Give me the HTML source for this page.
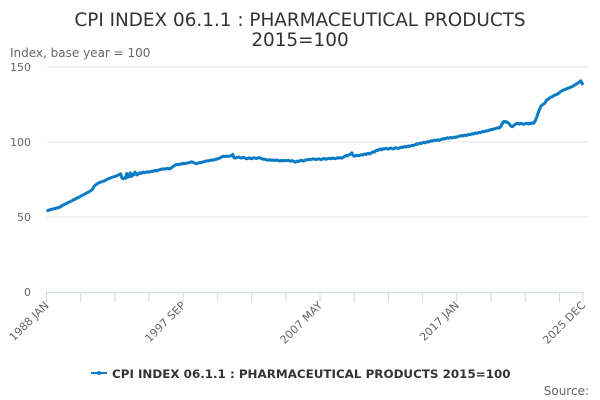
<!DOCTYPE html>
<html><head><meta charset="utf-8"><style>
body{margin:0;background:#fff;}
svg{display:block;font-family:"DejaVu Sans","Liberation Sans",sans-serif;}
</style></head><body>
<svg id="chart" width="600" height="400">
<text x="300" y="26" text-anchor="middle" font-size="18.4" fill="#333">CPI INDEX 06.1.1 : PHARMACEUTICAL PRODUCTS</text>
<text x="300" y="46" text-anchor="middle" font-size="18.4" fill="#333">2015=100</text>
<text x="10" y="57" font-size="12" fill="#666">Index, base year = 100</text>
<g id="grid"></g><g id="xaxis"></g><g id="series"></g>
<g>
<line x1="91" y1="373" x2="107" y2="373" stroke="#0a7bc4" stroke-width="2"/>
<circle cx="99" cy="373" r="2" fill="#0a7bc4"/>
<text x="112" y="378" font-size="11.9" font-weight="bold" fill="#333">CPI INDEX 06.1.1 : PHARMACEUTICAL PRODUCTS 2015=100</text>
</g>
<text x="589" y="395" text-anchor="end" font-size="12" fill="#666">Source:</text>
</svg>
<script>
const yTicks=[0,50,100,150];
const xLabels=["1988 JAN","1997 SEP","2007 MAY","2017 JAN","2025 DEC"];
const xLabelIdx=[0,116,232,348,455];
const values=[
54.0,54.3,54.6,54.8,55.0,55.2,55.5,55.6,55.8,56.0,56.3,56.5,
56.8,57.5,58.0,58.3,58.7,59.0,59.5,59.8,60.2,60.6,61.0,61.5,
61.8,62.3,62.6,63.0,63.4,63.8,64.3,64.7,65.0,65.5,66.0,66.4,
66.8,67.3,67.8,68.4,70.0,71.0,71.6,72.1,72.6,73.0,73.3,73.6,
73.8,74.0,74.5,75.0,75.3,75.6,76.0,76.3,76.6,76.8,77.0,77.3,
77.6,78.0,78.3,78.8,76.0,75.5,76.0,75.8,79.0,76.5,77.0,79.5,
77.0,78.5,78.0,80.0,78.5,78.0,79.0,79.5,79.0,79.5,80.0,79.5,
79.8,80.0,80.2,79.8,80.2,80.5,80.3,80.8,81.0,80.7,81.0,81.3,
81.5,81.8,82.0,81.8,82.2,82.0,82.3,82.5,82.0,82.3,82.8,83.5,
84.0,84.5,85.0,84.8,85.2,85.0,85.5,85.3,85.8,85.5,85.7,86.0,
86.0,86.3,86.5,86.8,86.5,86.2,85.8,85.5,85.8,86.0,86.3,86.2,
86.5,86.8,87.0,87.2,87.5,87.3,87.6,87.8,88.0,87.8,88.2,88.3,
88.5,88.8,89.0,89.3,89.8,90.2,90.5,90.3,90.5,90.6,90.4,90.5,
90.8,91.0,91.8,89.5,89.3,89.5,89.8,90.0,89.6,89.3,89.5,89.8,
89.5,89.0,88.8,89.2,89.5,89.0,88.8,89.3,89.5,89.2,89.0,89.3,
89.6,89.4,89.0,88.8,88.5,88.6,88.3,88.0,87.8,88.2,88.0,87.8,
88.0,87.8,87.6,88.0,87.8,87.5,87.3,87.8,87.6,87.4,87.8,87.5,
87.6,87.8,87.5,87.2,87.6,87.4,87.0,86.5,87.0,87.3,87.0,87.5,
87.8,87.5,87.3,87.8,88.2,88.0,88.3,88.5,88.2,88.5,88.8,88.6,
88.5,88.3,88.6,88.8,88.5,88.2,88.6,89.0,88.8,88.5,88.8,89.0,
89.2,88.8,89.0,89.3,89.0,88.8,89.2,89.5,89.3,89.6,89.2,89.5,
90.0,90.5,91.0,90.6,91.2,91.5,92.0,92.8,91.0,90.5,90.8,91.2,
91.0,90.8,91.3,91.6,91.2,91.8,92.0,91.6,92.2,92.5,92.0,92.5,
93.0,93.5,93.2,94.0,94.6,94.3,95.0,95.3,94.8,95.5,95.2,95.5,
95.8,95.5,95.2,95.8,96.0,95.6,95.3,95.8,96.2,96.0,95.7,96.0,
96.3,96.6,96.3,96.8,97.0,96.7,97.0,97.3,97.0,97.5,97.8,97.5,
98.0,98.3,98.8,98.5,99.0,99.3,99.0,99.5,99.8,99.4,99.9,100.2,
100.0,100.4,100.8,100.5,101.0,101.3,100.9,101.2,101.5,101.0,101.4,101.8,
102.0,102.3,102.0,102.5,102.8,102.5,102.8,103.0,102.7,103.0,103.3,103.0,
103.4,103.6,103.9,104.0,104.3,104.0,104.4,104.6,104.3,104.7,105.0,104.8,
105.2,105.5,105.3,105.8,106.0,105.7,106.2,106.5,106.2,106.6,107.0,106.8,
107.2,107.5,107.3,107.8,108.0,108.4,108.2,108.6,108.8,109.0,109.3,109.5,
109.3,110.0,111.5,113.0,113.8,113.3,113.6,113.0,112.5,111.5,110.5,110.2,
110.8,111.5,112.0,112.5,112.3,112.0,112.4,112.2,112.0,111.8,112.2,112.5,
112.3,112.0,112.5,112.2,112.8,112.5,113.5,115.0,117.0,119.5,121.5,123.5,
124.5,125.0,125.5,126.3,127.8,128.3,128.8,129.5,130.0,130.3,130.8,131.3,
131.5,131.8,132.3,133.0,133.5,134.0,134.5,134.8,135.0,135.5,135.8,136.0,
136.3,136.8,137.0,137.5,138.0,138.5,139.0,139.5,140.0,140.8,139.5,138.0];
const NS="http://www.w3.org/2000/svg";
const X0=46.5,X1=583,Y0=292,Y1=67,N=values.length;
const xs=i=>X0+(X1-X0)*i/(N-1);
const ys=v=>Y0-(Y0-Y1)*v/150;
function mk(t,a,p){const e=document.createElementNS(NS,t);for(const k in a)e.setAttribute(k,a[k]);p.appendChild(e);return e;}
const grid=document.getElementById('grid');
yTicks.forEach(t=>{
 if(t>0){const l=mk('line',{x1:X0,x2:X1+5,y1:ys(t),y2:ys(t),stroke:'#e6e6e6','stroke-width':1},grid);
 
 }
 const tx=mk('text',{x:31,y:ys(t)+4,'text-anchor':'end','font-size':11,fill:'#666'},grid);tx.textContent=t;
 
 
});
const xa=document.getElementById('xaxis');
const ax=mk('line',{x1:X0,x2:X1,y1:Y0+0.5,y2:Y0+0.5,stroke:'#ccd6eb','stroke-width':1},xa);


for(let i=0;i<N;i+=29){const t=mk('line',{x1:xs(i),x2:xs(i),y1:Y0,y2:Y0+10,stroke:'#ccd6eb'},xa);
 
 }
mk('line',{x1:xs(N-1),x2:xs(N-1),y1:Y0,y2:Y0+10,stroke:'#ccd6eb'},xa);
xLabels.forEach((s,k)=>{const x=xs(xLabelIdx[k]);
 const t=mk('text',{x:x+3,y:Y0+14,'text-anchor':'end','font-size':11,fill:'#666',transform:`rotate(-45 ${x+3} ${Y0+14})`},xa);t.textContent=s;
 
 });
const ser=document.getElementById('series');
const p=mk('path',{d:values.map((v,i)=>(i?'L':'M')+xs(i).toFixed(2)+','+ys(v).toFixed(2)).join(''),fill:'none',stroke:'#0a7bc4','stroke-width':3,'stroke-linejoin':'round'},ser);


</script>
</body></html>
